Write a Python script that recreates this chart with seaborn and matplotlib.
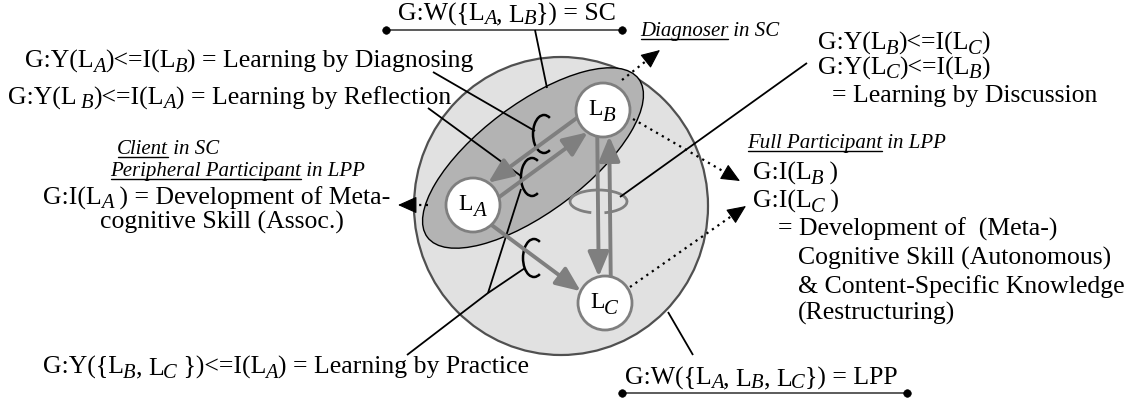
import re
import numpy as np
import matplotlib
matplotlib.use("Agg")
import matplotlib.pyplot as plt
import seaborn as sns
import pandas as pd
from matplotlib.patches import Ellipse, Circle, Arc, FancyArrowPatch

# ---------------- data ----------------
node_names = ["A", "B", "C"]
node_x = [473, 603, 605]
node_y = [205, 110, 303]
node_r = 27

# interaction arrows: (from, to, perpendicular offset relative to the alphabetical pair)
arrow_from = ["B", "A", "B", "C", "A"]
arrow_to = ["A", "B", "C", "B", "C"]
arrow_off = [-9, 9, 6, -6, 5]

# [X] marks an italic subscript letter
main_texts = [
    (398, 21, "G:W({L[A], L[B]}) = SC"),
    (25, 68, "G:Y(L[A])<=I(L[B]) = Learning by Diagnosing"),
    (8, 105, "G:Y(L [B])<=I(L[A]) = Learning by Reflection"),
    (818, 50, "G:Y(L[B])<=I(L[C])"),
    (818, 75, "G:Y(L[C])<=I(L[B])"),
    (832, 102, "= Learning by Discussion"),
    (43, 205, "G:I(L[A] ) = Development of Meta-"),
    (100, 229, "cognitive Skill (Assoc.)"),
    (753, 180, "G:I(L[B] )"),
    (753, 208, "G:I(L[C] )"),
    (778, 236, "= Development of  (Meta-)"),
    (798, 265, "Cognitive Skill (Autonomous)"),
    (798, 293, "& Content-Specific Knowledge"),
    (798, 320, "(Restructuring)"),
    (43, 374, "G:Y({L[B], L[C] })<=I(L[A]) = Learning by Practice"),
    (625, 385, "G:W({L[A], L[B], L[C]}) = LPP"),
]

role_texts = [
    (640, 36, "Diagnoser", " in SC"),
    (117, 154, "Client", " in SC"),
    (110, 176, "Peripheral Participant", " in LPP"),
    (747, 148, "Full Participant", " in LPP"),
]

# label bars with dot ends
bar_x0 = [386, 622]
bar_x1 = [622, 907]
bar_y = [30, 393]

# connector lines (polylines)
connectors = [
    [(433, 72), (535, 131)],
    [(428, 108), (521, 176)],
    [(535, 30), (547, 88)],
    [(807, 63), (620, 197)],
    [(407, 355), (488, 293), (525, 268)],
    [(488, 293), (521, 189)],
    [(693, 355), (668, 312)],
]

# ring marks (cx, cy, w, h, theta1, theta2, colour)
rings = [
    (544, 134, 22, 38, 70, 290, "black"),
    (532, 177, 22, 38, 70, 290, "black"),
    (534, 258, 22, 38, 70, 290, "black"),
    (598.5, 201.5, 57, 23, 123, 422, "#7f7f7f"),
]

# dotted arrows (start, tip)
dotted = [
    ((622, 80), (660, 50)),
    ((633, 119), (740, 181)),
    ((630, 287), (746, 206)),
    ((428, 205), (398, 205)),
]

# ---------------- style ----------------
sns.set_theme(style="white")
plt.rcParams["font.family"] = ["Liberation Serif", "DejaVu Serif"]

fig = plt.figure(figsize=(11.32, 4.05), dpi=100)
ax = fig.add_axes([0, 0, 1, 1])
ax.set_xlim(0, 1132)
ax.set_ylim(405, 0)
ax.axis("off")
renderer = fig.canvas.get_renderer()

GREY = "#7f7f7f"
pos = {n: np.array([x, y], float) for n, x, y in zip(node_names, node_x, node_y)}


def text_width(s, size, style="normal"):
    t = ax.text(0, 0, "|" + s + "|", fontsize=size, style=style)
    w1 = t.get_window_extent(renderer).width
    t.set_text("||")
    w0 = t.get_window_extent(renderer).width
    t.remove()
    return w1 - w0


def rich(x, y, s, size=18.5, ha="left", sub_ratio=0.8, sub_drop=3.5, kern=-1.0, z=6):
    parts = re.split(r"\[(\w)\]", s)
    pieces = []
    for i, p in enumerate(parts):
        if p == "":
            continue
        if i % 2 == 0:
            pieces.append((p, size, "normal", 0.0, 0.0))
        else:
            pieces.append((p, size * sub_ratio, "italic", sub_drop, kern))
    widths = [text_width(p, sz, st) + k for p, sz, st, d, k in pieces]
    cx = x - sum(widths) / 2 if ha == "center" else x
    for (p, sz, st, d, k), w in zip(pieces, widths):
        ax.text(cx + k, y + d, p, fontsize=sz, style=st, ha="left", va="baseline",
                color="black", zorder=z)
        cx += w


# big LPP circle and SC ellipse
ax.add_patch(Ellipse((561, 206), 294, 298, fc="#e1e1e1", ec="#505050", lw=1.6, zorder=1))
ax.add_patch(Ellipse((533, 158), 264, 108, angle=-36.87, fc="#b3b3b3", ec="black", lw=1.0, zorder=1.2))

# rings
for cx, cy, w, h, t1, t2, c in rings:
    ax.add_patch(Arc((cx, cy), w, h, theta1=t1, theta2=t2, color=c,
                     lw=1.8 if c == "black" else 2.0, zorder=2.5))

# connectors
for pts in connectors:
    xs, ys = zip(*pts)
    ax.plot(xs, ys, color="black", lw=1.3, zorder=2.6, solid_capstyle="butt")

# grey interaction arrows
for f, t, off in zip(arrow_from, arrow_to, arrow_off):
    p, q = sorted([f, t])
    P, Q = pos[p], pos[q]
    u = (Q - P) / np.linalg.norm(Q - P)
    n = np.array([-u[1], u[0]])
    s = np.sqrt(node_r ** 2 - off ** 2)
    a_pt = P + u * s + n * off
    b_pt = Q - u * s + n * off
    start, end = (a_pt, b_pt) if f == p else (b_pt, a_pt)
    ax.add_patch(FancyArrowPatch(tuple(start), tuple(end),
                                 arrowstyle="-|>,head_length=0.75,head_width=0.32",
                                 mutation_scale=20, lw=2.8, color=GREY,
                                 shrinkA=0, shrinkB=0, zorder=3))

# nodes
for n_ in node_names:
    ax.add_patch(Circle(tuple(pos[n_]), node_r, fc="white", ec=GREY, lw=2.0, zorder=4))
    rich(pos[n_][0] - 1, pos[n_][1] + 5, "L[%s]" % n_, size=17, ha="center",
         sub_ratio=0.88, sub_drop=6, kern=0.0, z=5)

# dotted arrows
for (sx, sy), (tx, ty) in dotted:
    s_ = np.array([sx, sy], float)
    t_ = np.array([tx, ty], float)
    u = (t_ - s_) / np.linalg.norm(t_ - s_)
    base = t_ - u * 12
    ax.plot([s_[0], base[0]], [s_[1], base[1]], color="black", lw=1.6,
            ls=(0, (1, 2)), zorder=4.5)
    ax.add_patch(FancyArrowPatch(tuple(base), tuple(t_),
                                 arrowstyle="-|>,head_length=0.85,head_width=0.38",
                                 mutation_scale=14, lw=0.8, color="black",
                                 shrinkA=0, shrinkB=0, zorder=4.6))

# label bars
for x0, x1, y in zip(bar_x0, bar_x1, bar_y):
    ax.plot([x0, x1], [y, y], color="#404040", lw=1.2, zorder=2)
dots = pd.DataFrame({"x": bar_x0 + bar_x1, "y": bar_y + bar_y})
sns.scatterplot(data=dots, x="x", y="y", ax=ax, color="black", s=30,
                edgecolor="black", legend=False, zorder=5)

ax.set_xlim(0, 1132)
ax.set_ylim(405, 0)

# texts
for x, y, s in main_texts:
    rich(x, y, s)

for x, y, word, rest in role_texts:
    w = text_width(word, 15, "italic")
    ax.text(x, y, word, fontsize=15, style="italic", ha="left", va="baseline",
            color="black", zorder=6)
    ax.plot([x + 1, x + w], [y + 2.5, y + 2.5], color="black", lw=1.0, zorder=6)
    ax.text(x + w, y, rest, fontsize=15, style="italic", ha="left", va="baseline",
            color="black", zorder=6)

fig.savefig("out.png", dpi=100, facecolor="white")
